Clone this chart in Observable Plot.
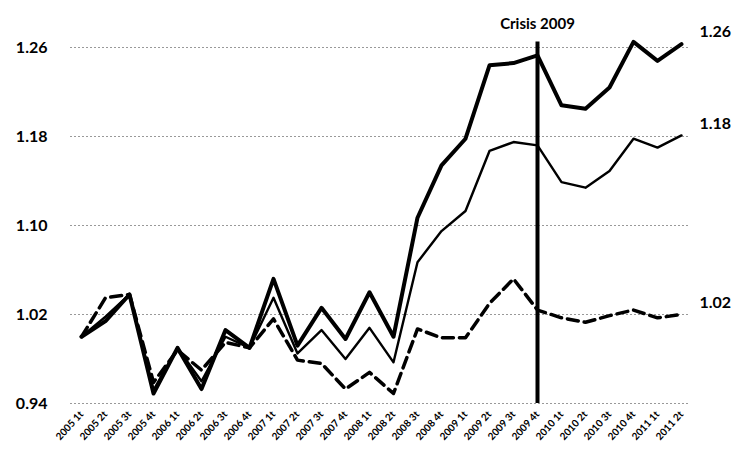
<!DOCTYPE html>
<html><head><meta charset="utf-8">
<script src="https://cdn.jsdelivr.net/npm/d3@7"></script>
<script src="https://cdn.jsdelivr.net/npm/@observablehq/plot@0.6"></script>
<style>body{margin:0;background:#fff}</style>
</head><body><div id="chart"></div>
<script>
const quarters = ["2005 1t","2005 2t","2005 3t","2005 4t","2006 1t","2006 2t","2006 3t","2006 4t",
  "2007 1t","2007 2t","2007 3t","2007 4t","2008 1t","2008 2t","2008 3t","2008 4t",
  "2009 1t","2009 2t","2009 3t","2009 4t","2010 1t","2010 2t","2010 3t","2010 4t","2011 1t","2011 2t"];
const seriesThick  = [1.000,1.014,1.038,0.949,0.990,0.953,1.006,0.990,1.052,0.992,1.026,0.998,1.040,1.000,1.107,1.154,1.178,1.244,1.246,1.253,1.208,1.205,1.224,1.265,1.248,1.263];
const seriesThin   = [1.000,1.018,1.038,0.952,0.990,0.960,1.000,0.990,1.035,0.985,1.006,0.980,1.008,0.977,1.067,1.095,1.113,1.167,1.175,1.172,1.139,1.134,1.149,1.178,1.170,1.181];
const seriesDashed = [1.000,1.035,1.038,0.959,0.988,0.970,0.995,0.990,1.016,0.979,0.976,0.953,0.968,0.949,1.007,0.999,0.999,1.030,1.052,1.024,1.017,1.013,1.019,1.024,1.017,1.020];
const yTicks = [0.94, 1.02, 1.10, 1.18, 1.26];
const crisisQuarter = "2009 4t";
const crisisLabel = "Crisis 2009";
const endLabels = ["1.26", "1.18", "1.02"];

const font = "Lato, 'Open Sans', sans-serif";
const toRows = (vals) => quarters.map((q, i) => ({q, v: vals[i]}));
const thick = toRows(seriesThick), thin = toRows(seriesThin), dashed = toRows(seriesDashed);
const lastQ = quarters[quarters.length - 1];
const ends = [seriesThick, seriesThin, seriesDashed].map((s, i) => ({q: lastQ, v: s[s.length - 1], label: endLabels[i]}));

const chart = Plot.plot({
  width: 739, height: 462,
  marginLeft: 79, marginRight: 57, marginTop: 47, marginBottom: 59,
  style: {fontFamily: font, background: "#fff", color: "#000"},
  x: {type: "point", domain: quarters, padding: 0},
  y: {domain: [0.94, 1.26]},
  marks: [
    Plot.ruleY(yTicks, {stroke: "#999", strokeWidth: 1, strokeDasharray: "2,2", insetLeft: -9, insetRight: -8}),
    Plot.axisY({ticks: yTicks, tickSize: 0, tickPadding: 32, tickFormat: d3.format(".2f"), fontSize: 16, fontWeight: "bold", label: null}),
    Plot.axisX({tickRotate: -48, tickSize: 0, tickPadding: 9, fontSize: 10, fontWeight: "bold", label: null}),
    Plot.line(dashed, {x: "q", y: "v", stroke: "#000", strokeWidth: 3.5, strokeDasharray: "11,6"}),
    Plot.line(thin, {x: "q", y: "v", stroke: "#000", strokeWidth: 2.4}),
    Plot.line(thick, {x: "q", y: "v", stroke: "#000", strokeWidth: 4}),
    Plot.ruleX([crisisQuarter], {y1: yTicks[0], y2: d3.max(seriesThick), stroke: "#000", strokeWidth: 4}),
    Plot.text([crisisLabel], {x: () => crisisQuarter, frameAnchor: "top", dy: -29, text: d => d, fontSize: 15, fontWeight: "bold", fill: "#000"}),
    Plot.text(ends, {x: "q", y: "v", text: "label", textAnchor: "start", dx: 18, dy: -12, fontSize: 16, fontWeight: "bold", fill: "#000"})
  ]
});
document.getElementById("chart").append(chart);
</script>
</body></html>
